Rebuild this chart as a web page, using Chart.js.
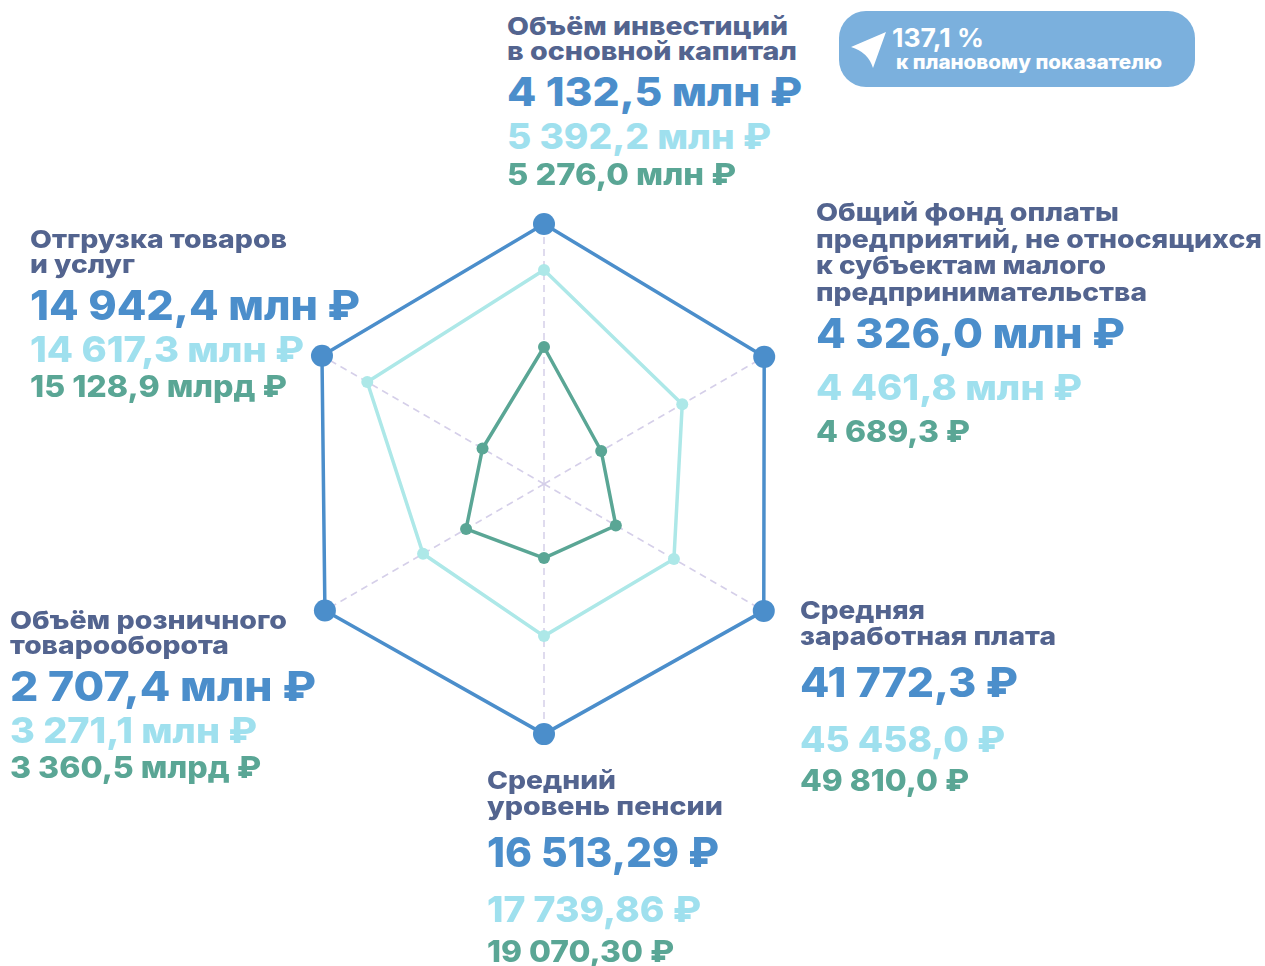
<!DOCTYPE html>
<html lang="ru">
<head>
<meta charset="utf-8">
<title>Radar</title>
<script src="https://cdn.jsdelivr.net/npm/chart.js@4"></script>
<style>
    html, body { margin: 0; padding: 0; background: #fff; overflow: hidden; }
    body { width: 1265px; height: 966px; position: relative; font-family: Inter, "Open Sans", sans-serif; }
    #wrap { position: absolute; left: 244px; top: 184px; width: 600px; height: 600px; }
    .line { position: absolute; white-space: nowrap; line-height: 1; transform-origin: left center; }
    #badge { position: absolute; left: 839px; top: 11px; width: 356px; height: 76px; border-radius: 27px; background: #7bb0dd; }
    #plane { position: absolute; left: 0; top: 0; }
</style>
</head>
<body>
<div id="badge"></div>
<svg id="plane" width="1265" height="100"><path d="M886 32 L851 47 Q868 52 873 68 Z" fill="#fff"/></svg>
<div id="wrap"><canvas id="radar" width="600" height="600"></canvas></div>
<script>
const categories = [
    ['Объём инвестиций', 'в основной капитал'],
    ['Общий фонд оплаты', 'предприятий, не относящихся', 'к субъектам малого', 'предпринимательства'],
    ['Средняя', 'заработная плата'],
    ['Средний', 'уровень пенсии'],
    ['Объём розничного', 'товарооборота'],
    ['Отгрузка товаров', 'и услуг']
];

// plotted positions, percent of the axis
const blueSeries = [100, 97.8, 97.6, 96.2, 97.3, 98.6];
const lightSeries = [82.3, 61.4, 57.7, 58.5, 53.7, 78.5];
const greenSeries = [52.7, 25.4, 31.9, 28.5, 34.6, 27.3];

const blueLabels = ['4 132,5 млн ₽', '4 326,0 млн ₽', '41 772,3 ₽', '16 513,29 ₽', '2 707,4 млн ₽', '14 942,4 млн ₽'];
const lightLabels = ['5 392,2 млн ₽', '4 461,8 млн ₽', '45 458,0 ₽', '17 739,86 ₽', '3 271,1 млн ₽', '14 617,3 млн ₽'];
const greenLabels = ['5 276,0 млн ₽', '4 689,3 ₽', '49 810,0 ₽', '19 070,30 ₽', '3 360,5 млрд ₽', '15 128,9 млрд ₽'];

const badgeLines = ['137,1 %', 'к плановому показателю'];

const BLUE = '#4b8ecb';
const LIGHT = '#ade8e8';
const GREEN = '#5aa695';
const TITLE = '#53648f';
const LIGHT_TEXT = '#9fe0ee';

// where the text blocks sit: x, line centres and line widths, sizes of the three values
const blocks = [
    { x: 507, titleY: [26, 51], titleW: [281, 290], valueY: [92, 136, 174], valueW: [295, 264, 229], valueSize: [40, 35, 30] },
    { x: 816, titleY: [212, 239, 265, 292], titleW: [303, 446, 290, 331], valueY: [333, 387, 431], valueW: [309, 266, 154], valueSize: [41, 35, 30] },
    { x: 800, titleY: [610, 636], titleW: [125, 256], valueY: [682, 739, 780], valueW: [218, 205, 169], valueSize: [41, 36, 30] },
    { x: 487, titleY: [780, 806], titleW: [129, 236], valueY: [852, 909, 951], valueW: [232, 214, 187], valueSize: [41, 36, 30] },
    { x: 10, titleY: [620, 645], titleW: [277, 219], valueY: [686, 730, 767], valueW: [306, 247, 251], valueSize: [41, 35, 30] },
    { x: 30, titleY: [239, 264], titleW: [257, 105], valueY: [305, 349, 386], valueW: [330, 274, 257], valueSize: [41, 35, 30] }
];

function addLine(text, x, y, width, size, weight, color) {
    const el = document.createElement('div');
    el.className = 'line';
    el.textContent = text;
    el.style.left = x + 'px';
    el.style.top = y + 'px';
    el.style.fontSize = size + 'px';
    el.style.fontWeight = weight;
    el.style.color = color;
    document.body.appendChild(el);
    const sx = width / el.getBoundingClientRect().width;
    el.style.transform = 'translateY(-50%) scaleX(' + sx + ')';
}

blocks.forEach((b, i) => {
    categories[i].forEach((line, j) => addLine(line, b.x, b.titleY[j], b.titleW[j], 25, 800, TITLE));
    addLine(blueLabels[i], b.x, b.valueY[0], b.valueW[0], b.valueSize[0], 800, BLUE);
    addLine(lightLabels[i], b.x, b.valueY[1], b.valueW[1], b.valueSize[1], 800, LIGHT_TEXT);
    addLine(greenLabels[i], b.x, b.valueY[2], b.valueW[2], b.valueSize[2], 800, GREEN);
});
addLine(badgeLines[0], 892, 38, 92, 26, 700, '#fff');
addLine(badgeLines[1], 896, 62, 266, 20, 800, '#fff');

new Chart(document.getElementById('radar').getContext('2d'), {
    type: 'radar',
    data: {
        labels: categories.map((c) => c.join(' ')),
        datasets: [{
            data: greenSeries,
            borderColor: GREEN,
            backgroundColor: GREEN,
            borderWidth: 3.5,
            pointRadius: 6,
            pointBackgroundColor: GREEN,
            pointBorderWidth: 0,
            fill: false
        }, {
            data: lightSeries,
            borderColor: LIGHT,
            backgroundColor: LIGHT,
            borderWidth: 3.5,
            pointRadius: 6,
            pointBackgroundColor: LIGHT,
            pointBorderWidth: 0,
            fill: false
        }, {
            data: blueSeries,
            borderColor: BLUE,
            backgroundColor: BLUE,
            borderWidth: 3.5,
            pointRadius: 11,
            pointBackgroundColor: BLUE,
            pointBorderWidth: 0,
            fill: false
        }]
    },
    options: {
        responsive: false,
        animation: false,
        layout: { padding: 40 },
        elements: { line: { tension: 0 } },
        scales: {
            r: {
                min: 0,
                max: 100,
                ticks: { display: false },
                grid: { display: false },
                pointLabels: { display: false },
                angleLines: {
                    display: true,
                    color: '#d5cfe9',
                    lineWidth: 1.5,
                    borderDash: [7, 5]
                }
            }
        },
        plugins: {
            legend: { display: false },
            tooltip: { enabled: false }
        }
    }
});
</script>
</body>
</html>
